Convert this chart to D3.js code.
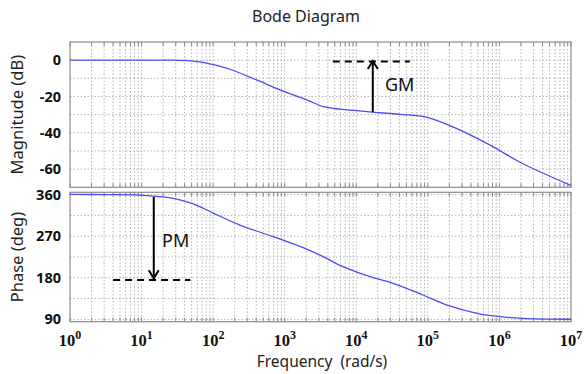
<!DOCTYPE html>
<html>
<head>
<meta charset="utf-8">
<script src="https://cdn.jsdelivr.net/npm/d3@7"></script>
<style>
  body { margin: 0; background: #fff; }
  text { font-family: "Noto Sans", "Open Sans", sans-serif; }
</style>
</head>
<body>
<div id="bode"></div>
<script>
// -------------------- DATA --------------------
const MAG_FREQ = [1, 10, 27, 52, 72, 100, 172, 406, 859, 2030, 3460, 5920, 17000, 41000, 98000, 250000, 741000, 2100000, 1e7];
const MAG_DB   = [0, 0, 0, -0.5, -1.2, -2.4, -5, -10.9, -16.4, -21.9, -25.6, -27, -28.6, -29.8, -31.5, -37.6, -46.8, -56.9, -69];

const PH_FREQ = [1, 3, 9.5, 27.7, 52.8, 100.5, 237, 692, 2030, 3860, 5920, 15600, 32600, 85600, 186000, 490000, 1.02e6, 2.1e6, 1e7];
const PH_DEG  = [360.5, 360, 359, 352, 340, 320, 294, 269, 242, 222, 207, 182.4, 168, 142.8, 121, 103, 95.8, 92.4, 90.3];

const MAG_TICKS = [0, -20, -40, -60];
const PH_TICKS = [360, 270, 180, 90];
const DECADES = [0, 1, 2, 3, 4, 5, 6, 7];

// annotations: gain margin at ~17000 rad/s, phase margin at ~15 rad/s
const GM = { freq: 17000, from: -28.6, to: -0.5, dash: [4700, 56000], dashLevel: -0.8 };
const PM = { freq: 14.8, from: 355, to: 179, dash: [4, 48], dashLevel: 175.5 };

// -------------------- LAYOUT --------------------
const W = 588, H = 374;
const left = 70, right = 571;
const magTop = 42, magBottom = 187.3;
const phTop = 192.3, phBottom = 321.7;

const svg = d3.select("#bode").append("svg")
  .attr("width", W).attr("height", H);

const x = d3.scaleLog().domain([1, 1e7]).range([left, right]);
const yMag = d3.scaleLinear().domain([-70, 10]).range([magBottom, magTop]);
const yPh = d3.scaleLinear().domain([85, 365]).range([phBottom, phTop]);

const minorFreqs = [];
for (let e = 0; e < 7; e++) {
  for (let k = 1; k <= 9; k++) minorFreqs.push(k * Math.pow(10, e));
}
minorFreqs.push(1e7);

function drawPanel(y, top, bottom, gridVals, ticks, clipId) {
  const g = svg.append("g");

  // grid
  g.selectAll(".vgrid").data(minorFreqs.filter(f => f > 1 && f < 1e7)).join("line")
    .attr("x1", d => x(d)).attr("x2", d => x(d))
    .attr("y1", top).attr("y2", bottom)
    .attr("stroke", "#b4b4b4").attr("stroke-width", 1)
    .attr("stroke-dasharray", "1.5,2");
  g.selectAll(".hgrid").data(gridVals).join("line")
    .attr("x1", left).attr("x2", right)
    .attr("y1", d => y(d)).attr("y2", d => y(d))
    .attr("stroke", "#b4b4b4").attr("stroke-width", 1)
    .attr("stroke-dasharray", "1.5,2");

  // inward minor ticks top and bottom
  g.selectAll(".ttick").data(minorFreqs).join("line")
    .attr("x1", d => x(d)).attr("x2", d => x(d))
    .attr("y1", top).attr("y2", top + 4)
    .attr("stroke", "#888");
  g.selectAll(".btick").data(minorFreqs).join("line")
    .attr("x1", d => x(d)).attr("x2", d => x(d))
    .attr("y1", bottom).attr("y2", bottom - 4)
    .attr("stroke", "#888");

  // frame
  g.append("rect")
    .attr("x", left).attr("y", top)
    .attr("width", right - left).attr("height", bottom - top)
    .attr("fill", "none").attr("stroke", "#8c8c8c").attr("stroke-width", 1.2);

  // y tick labels
  g.selectAll(".ylab").data(ticks).join("text")
    .attr("x", left - 9).attr("y", d => y(d))
    .attr("dy", "0.35em")
    .attr("text-anchor", "end")
    .style("font-size", "14.5px").style("font-weight", "bold")
    .attr("fill", "#111")
    .text(d => d);

  svg.append("clipPath").attr("id", clipId)
    .append("rect").attr("x", left).attr("y", top)
    .attr("width", right - left).attr("height", bottom - top);
}

drawPanel(yMag, magTop, magBottom, d3.range(-60, 10, 10), MAG_TICKS, "clipMag");
drawPanel(yPh, phTop, phBottom, d3.range(90, 361, 45), PH_TICKS, "clipPh");

// -------------------- CURVES --------------------
const magLine = d3.line()
  .x(d => x(d[0])).y(d => yMag(d[1]))
  .curve(d3.curveCatmullRom.alpha(0.5));
const phLine = d3.line()
  .x(d => x(d[0])).y(d => yPh(d[1]))
  .curve(d3.curveCatmullRom.alpha(0.5));

svg.append("path")
  .datum(d3.zip(MAG_FREQ, MAG_DB))
  .attr("clip-path", "url(#clipMag)")
  .attr("d", magLine)
  .attr("fill", "none").attr("stroke", "#4b4bf5").attr("stroke-width", 1.3);

svg.append("path")
  .datum(d3.zip(PH_FREQ, PH_DEG))
  .attr("clip-path", "url(#clipPh)")
  .attr("d", phLine)
  .attr("fill", "none").attr("stroke", "#4b4bf5").attr("stroke-width", 1.3);

// -------------------- ANNOTATIONS --------------------
function annotate(ann, y, label, labelX, labelY, up) {
  const ax = x(ann.freq);
  svg.append("line")
    .attr("x1", x(ann.dash[0])).attr("x2", x(ann.dash[1]))
    .attr("y1", y(ann.dashLevel)).attr("y2", y(ann.dashLevel))
    .attr("stroke", "#000").attr("stroke-width", 2)
    .attr("stroke-dasharray", "7,5");
  const y1 = y(ann.from), y2 = y(ann.to);
  svg.append("line")
    .attr("x1", ax).attr("x2", ax).attr("y1", y1).attr("y2", y2)
    .attr("stroke", "#000").attr("stroke-width", 2);
  const s = up ? 1 : -1;
  svg.append("path")
    .attr("d", `M${ax - 5},${y2 + s * 8} L${ax},${y2} L${ax + 5},${y2 + s * 8}`)
    .attr("fill", "none").attr("stroke", "#000").attr("stroke-width", 2);
  svg.append("text")
    .attr("x", labelX).attr("y", labelY)
    .attr("dy", "0.35em")
    .style("font-size", "18px")
    .attr("fill", "#111")
    .text(label);
}

annotate(GM, yMag, "GM", 385, 85, true);
annotate(PM, yPh, "PM", 162, 241, false);

// -------------------- X TICK LABELS --------------------
const xl = svg.selectAll(".xlab").data(DECADES).join("text")
  .attr("x", d => x(Math.pow(10, d)))
  .attr("y", 346)
  .attr("text-anchor", "middle")
  .style("font-family", "'Liberation Serif', 'DejaVu Serif', serif")
  .style("font-weight", "bold")
  .style("font-size", "16.5px")
  .attr("fill", "#111");
xl.append("tspan").text("10");
xl.append("tspan").attr("dy", "-7").style("font-size", "12px").text(d => d);

// -------------------- TITLES --------------------
svg.append("text")
  .attr("x", 306).attr("y", 22)
  .attr("text-anchor", "middle")
  .style("font-size", "16px")
  .attr("fill", "#222")
  .text("Bode Diagram");

svg.append("text")
  .attr("transform", `translate(23, ${(magTop + magBottom) / 2}) rotate(-90)`)
  .attr("text-anchor", "middle")
  .style("font-size", "16.5px")
  .attr("fill", "#222")
  .text("Magnitude (dB)");

svg.append("text")
  .attr("transform", `translate(23, ${(phTop + phBottom) / 2}) rotate(-90)`)
  .attr("text-anchor", "middle")
  .style("font-size", "16.5px")
  .attr("fill", "#222")
  .text("Phase (deg)");

svg.append("text")
  .attr("x", 322).attr("y", 367)
  .attr("text-anchor", "middle")
  .style("font-size", "15.5px")
  .attr("fill", "#222")
  .style("white-space", "pre")
  .text("Frequency  (rad/s)");
</script>
</body>
</html>
